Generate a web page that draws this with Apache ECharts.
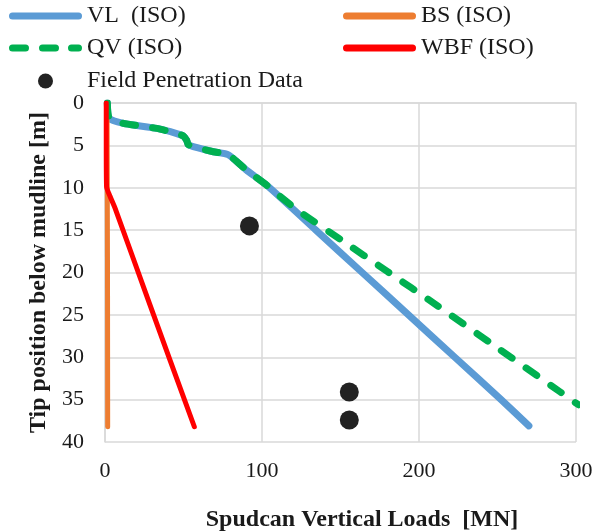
<!DOCTYPE html>
<html>
<head>
<meta charset="utf-8">
<script src="https://cdn.jsdelivr.net/npm/echarts@6/dist/echarts.min.js"></script>
<style>html,body{margin:0;padding:0;background:#fff}#c{width:597px;height:532px}</style>
</head>
<body>
<div id="c"></div>
<script>
// ---- data ----
const xTicks = [0, 100, 200, 300];
const yTicks = [0, 5, 10, 15, 20, 25, 30, 35, 40];

const vlLoad  = [1.5, 2.7, 11.7, 33, 45.7, 50, 52, 53, 56.2, 69, 78.5, 90, 103, 134.3, 163.8, 193.3, 222.8, 252.3, 270];
const vlDepth = [0, 1.8, 2.4, 3.0, 3.6, 3.9, 4.4, 4.9, 5.16, 5.75, 6.1, 7.9, 9.7, 15, 20, 25, 30, 35, 38.1];

const bsLoad  = [1.3, 1.6, 1.7];
const bsDepth = [0, 20, 38.2];

const qvLoad  = [1.5, 2.7, 11.7, 33, 45.7, 50, 52, 53, 56.2, 69, 78.5, 90, 103, 112, 124.2, 150, 180, 210, 250, 290, 301.5];
const qvDepth = [0, 1.8, 2.4, 3.0, 3.6, 3.9, 4.4, 4.9, 5.16, 5.75, 6.1, 7.9, 9.7, 11.1, 12.85, 16.1, 19.9, 23.7, 28.9, 34.1, 35.6];

const wbfLoad  = [0.8, 0.8, 1.0, 3.2, 6.4, 27.6, 56.9];
const wbfDepth = [0, 5, 9.9, 11.0, 12.4, 23.3, 38.2];

const fieldLoad  = [92, 155.6, 155.6];
const fieldDepth = [14.5, 34.1, 37.4];

const names = ['VL  (ISO)', 'BS (ISO)', 'QV (ISO)', 'WBF (ISO)', 'Field Penetration Data'];
const colors = ['#5B9BD5', '#ED7D31', '#00B050', '#FF0000', '#222222'];

const zip = (a, b) => a.map((v, i) => [v, b[i]]);
const FONT = '"Liberation Serif", "Times New Roman", serif';

// legend icon shapes (73 x 7 units)
const solidIcon = 'path://M3.5,0H69.5A3.5,3.5 0 0 1 69.5,7H3.5A3.5,3.5 0 0 1 3.5,0Z';
const dashIcon = 'path://M3.5,0H16.5A3.5,3.5 0 0 1 16.5,7H3.5A3.5,3.5 0 0 1 3.5,0Z' +
  'M33.5,0H46.5A3.5,3.5 0 0 1 46.5,7H33.5A3.5,3.5 0 0 1 33.5,0Z' +
  'M62.5,0H69.5A3.5,3.5 0 0 1 69.5,7H62.5A3.5,3.5 0 0 1 62.5,0Z';

function legendRow(name, left, top, icon, h, color) {
  const item = {name: name};
  if (icon) { item.icon = icon; item.itemStyle = {color: color}; }
  return {
    orient: 'horizontal', left: left, top: top, padding: 0,
    itemWidth: 73, itemHeight: h, itemGap: 0,
    textStyle: {fontFamily: FONT, fontSize: 24, color: '#1a1a1a', lineHeight: 24},
    data: [item]
  };
}

const chart = echarts.init(document.getElementById('c'), null, {renderer: 'canvas'});
chart.setOption({
  animation: false,
  backgroundColor: '#fff',
  legend: [
    legendRow(names[0], 9, 4, solidIcon, 7, colors[0]),
    legendRow(names[2], 9, 36, dashIcon, 7, colors[2]),
    legendRow(names[4], 38, 69, null, 15, colors[4]),
    legendRow(names[1], 343, 4, solidIcon, 7, colors[1]),
    legendRow(names[3], 343, 36, solidIcon, 7, colors[3])
  ],
  grid: {left: 105, right: 21, top: 103, bottom: 90, containLabel: false, outerBoundsMode: 'none'},
  xAxis: {
    type: 'value', min: xTicks[0], max: xTicks[xTicks.length - 1], interval: 100,
    position: 'bottom',
    name: 'Spudcan Vertical Loads  [MN]', nameLocation: 'middle', nameGap: 66,
    nameTextStyle: {fontFamily: FONT, fontSize: 24, fontWeight: 'bold', color: '#1a1a1a', padding: [0, 0, 0, 43]},
    axisLine: {show: true, lineStyle: {color: '#d9d9d9', width: 1.5}},
    axisTick: {show: false},
    axisLabel: {fontFamily: FONT, fontSize: 22, color: '#1a1a1a', margin: 18},
    splitLine: {show: true, lineStyle: {color: '#d9d9d9', width: 1.5}}
  },
  yAxis: {
    type: 'value', min: yTicks[0], max: yTicks[yTicks.length - 1], interval: 5, inverse: true,
    name: 'Tip position below mudline [m]', nameLocation: 'middle', nameGap: 48,
    nameTextStyle: {fontFamily: FONT, fontSize: 24, fontWeight: 'bold', color: '#1a1a1a'},
    axisLine: {show: true, lineStyle: {color: '#d9d9d9', width: 1.5}},
    axisTick: {show: false},
    axisLabel: {fontFamily: FONT, fontSize: 22, color: '#1a1a1a', margin: 21},
    splitLine: {show: true, lineStyle: {color: '#d9d9d9', width: 1.5}}
  },
  series: [
    {name: names[0], type: 'line', data: zip(vlLoad, vlDepth), symbol: 'none', smooth: 0.2,
     color: colors[0], lineStyle: {color: colors[0], width: 7, cap: 'round', join: 'round'}},
    {name: names[1], type: 'line', data: zip(bsLoad, bsDepth), symbol: 'none',
     color: colors[1], lineStyle: {color: colors[1], width: 5, cap: 'round', join: 'round'}},
    {name: names[2], type: 'line', data: zip(qvLoad, qvDepth), symbol: 'none', smooth: 0.2,
     color: colors[2], lineStyle: {color: colors[2], width: 7, type: [13, 17], cap: 'round', join: 'round'}},
    {name: names[3], type: 'line', data: zip(wbfLoad, wbfDepth), symbol: 'none', smooth: 0.2,
     color: colors[3], lineStyle: {color: colors[3], width: 5, cap: 'round', join: 'round'}},
    {name: names[4], type: 'scatter', data: zip(fieldLoad, fieldDepth), symbol: 'circle', symbolSize: 19,
     itemStyle: {color: colors[4], opacity: 1}}
  ]
});
</script>
</body>
</html>
